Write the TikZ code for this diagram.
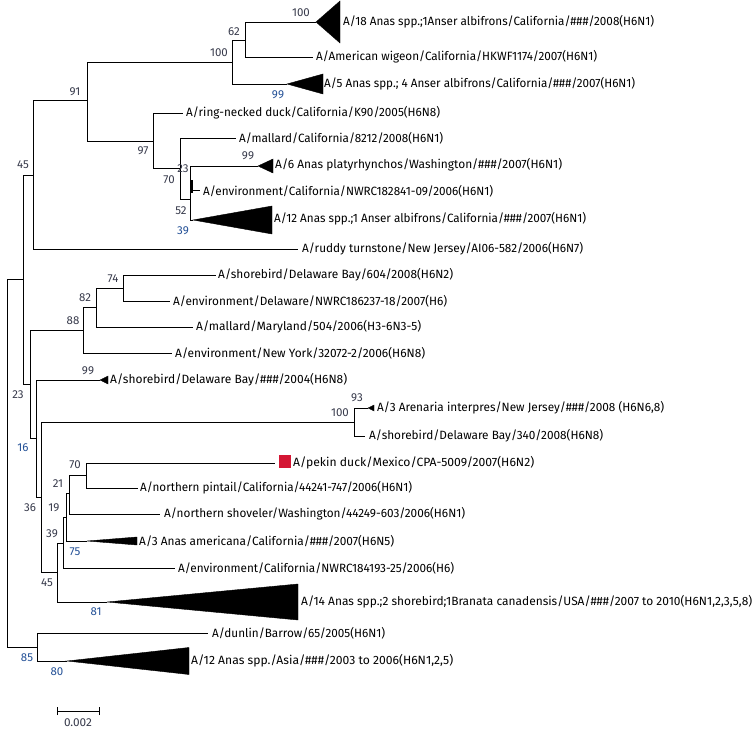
\documentclass[tikz,border=0pt]{standalone}
\usepackage{graphicx}
\usepackage{fontspec}
\setmainfont{Fira Sans}
\definecolor{bsgray}{RGB}{55,58,75}
\definecolor{bsblue}{RGB}{35,80,150}
\definecolor{pekred}{RGB}{212,22,52}
\newcommand\cladetri[3]{\fill[tri] (#1) -- ++(#2,-#3) -- ++(0,2*#3) -- cycle;}
\newcommand\fitw[2]{\resizebox{#1pt}{\height}{#2}}
\begin{document}
\begin{tikzpicture}[x=1pt,y=-1pt,
  br/.style={line width=0.9pt},
  tri/.style={fill=black,draw=black,line width=0.4pt,line join=miter},
  tip/.style={anchor=west,inner sep=0pt,font=\fontsize{12}{13}\selectfont},
  bs/.style={inner sep=0pt,font=\fontsize{11.5}{12}\selectfont,text=bsgray},
  bsb/.style={bs,text=bsblue}]
\useasboundingbox (0,0) rectangle (755,730);

% internal nodes
\coordinate (root) at (7,463);
\coordinate (nA) at (23,279);
\coordinate (n45) at (33,175);
\coordinate (n91) at (87,100);
\coordinate (n100a) at (232,62);
\coordinate (n62) at (245,40);
\coordinate (n97) at (153,141);
\coordinate (n70) at (180,168);
\coordinate (n52) at (190,199);
\coordinate (nEnv) at (192,186);
\coordinate (n30) at (30,384);
\coordinate (n88) at (83,330);
\coordinate (n82) at (96,307);
\coordinate (n74) at (123,288);
\coordinate (n16) at (36,438);
\coordinate (n36) at (41,497);
\coordinate (n100b) at (354,422);
\coordinate (n45b) at (57,572);
\coordinate (n39) at (63,543);
\coordinate (n19) at (66,517);
\coordinate (n21) at (69,493);
\coordinate (n70b) at (86,475);
\coordinate (n85) at (37,647);

% tip ends
\coordinate (tr18) at (316,22);
\coordinate (e2) at (313,57);
\coordinate (tr5) at (287,84);
\coordinate (e4) at (183,113);
\coordinate (e5) at (236,138);
\coordinate (tr6) at (258,166);
\coordinate (e7) at (200,190);
\coordinate (tr12) at (193,220);
\coordinate (e9) at (298,249);
\coordinate (e10) at (216,275);
\coordinate (e11) at (170,301);
\coordinate (e12) at (193,327);
\coordinate (e13) at (172,353);
\coordinate (tr04) at (100,380);
\coordinate (tr3a) at (368,408);
\coordinate (e16) at (365,436);
\coordinate (e17) at (275,463);
\coordinate (e18) at (138,488);
\coordinate (e19) at (160,514);
\coordinate (tr3m) at (87,541);
\coordinate (e21) at (175,568);
\coordinate (tr14) at (107,602);
\coordinate (e23) at (208,633);
\coordinate (tr12a) at (67,661);

% branches
\draw[br] (root) |- (nA);
\draw[br] (root) |- (n85);
\draw[br] (nA) |- (n45);
\draw[br] (nA) |- (n30);
\draw[br] (n45) |- (n91);
\draw[br] (n45) |- (e9);
\draw[br] (n91) |- (n100a);
\draw[br] (n91) |- (n97);
\draw[br] (n100a) |- (n62);
\draw[br] (n100a) |- (tr5);
\draw[br] (n62) |- (tr18);
\draw[br] (n62) |- (e2);
\draw[br] (n97) |- (e4);
\draw[br] (n97) |- (n70);
\draw[br] (n70) |- (e5);
\draw[br] (n70) |- (n52);
\draw[br] (n52) |- (tr6);
\draw[br] (n52) |- (tr12);
\draw[br] (n52) |- (nEnv);
\draw[line width=1.4pt] ([yshift=-7pt]nEnv) -- ([yshift=6pt]nEnv);
\draw[br] (nEnv) |- (e7);
\draw[br] (n30) |- (n88);
\draw[br] (n30) |- (n16);
\draw[br] (n88) |- (n82);
\draw[br] (n88) |- (e13);
\draw[br] (n82) |- (n74);
\draw[br] (n82) |- (e12);
\draw[br] (n74) |- (e10);
\draw[br] (n74) |- (e11);
\draw[br] (n16) |- (tr04);
\draw[br] (n16) |- (n36);
\draw[br] (n36) |- (n100b);
\draw[br] (n36) |- (n45b);
\draw[br] (n100b) |- (tr3a);
\draw[br] (n100b) |- (e16);
\draw[br] (n45b) |- (n39);
\draw[br] (n45b) |- (tr14);
\draw[br] (n39) |- (n19);
\draw[br] (n39) |- (e21);
\draw[br] (n19) |- (n21);
\draw[br] (n19) |- (tr3m);
\draw[br] (n21) |- (n70b);
\draw[br] (n21) |- (e19);
\draw[br] (n70b) |- (e17);
\draw[br] (n70b) |- (e18);
\draw[br] (n85) |- (e23);
\draw[br] (n85) |- (tr12a);

% collapsed clades
\cladetri{tr18}{24}{21}
\cladetri{tr5}{36}{10}
\cladetri{tr6}{15}{7}
\cladetri{tr12}{79}{14}
\cladetri{tr04}{8}{4}
\cladetri{tr3a}{6}{3}
\cladetri{tr3m}{50}{4}
\cladetri{tr14}{191}{18}
\cladetri{tr12a}{122}{13.5}

% red marker
\node[fill=pekred,minimum width=12pt,minimum height=13pt,inner sep=0pt] (sq) at (285,461) {};

% tip labels
\node[tip] (t1) at (343,22) {\fitw{311}{A/18 Anas spp.;1Anser albifrons/California/\#\#\#/2008(H6N1)}};
\node[tip] (t2) at (316,57) {\fitw{281}{A/American wigeon/California/HKWF1174/2007(H6N1)}};
\node[tip] (t3) at (324,84) {\fitw{311}{A/5 Anas spp.; 4 Anser albifrons/California/\#\#\#/2007(H6N1)}};
\node[tip] (t4) at (186,113) {\fitw{254}{A/ring-necked duck/California/K90/2005(H6N8)}};
\node[tip] (t5) at (239,138) {\fitw{204}{A/mallard/California/8212/2008(H6N1)}};
\node[tip] (t6) at (275,165) {\fitw{287}{A/6 Anas platyrhynchos/Washington/\#\#\#/2007(H6N1)}};
\node[tip] (t7) at (203,191) {\fitw{290}{A/environment/California/NWRC182841-09/2006(H6N1)}};
\node[tip] (t8) at (274,219) {\fitw{312}{A/12 Anas spp.;1 Anser albifrons/California/\#\#\#/2007(H6N1)}};
\node[tip] (t9) at (302,249) {\fitw{281}{A/ruddy turnstone/New Jersey/AI06-582/2006(H6N7)}};
\node[tip] (t10) at (218,275) {\fitw{235}{A/shorebird/Delaware Bay/604/2008(H6N2)}};
\node[tip] (t11) at (173,301) {\fitw{274}{A/environment/Delaware/NWRC186237-18/2007(H6)}};
\node[tip] (t12) at (196,327) {\fitw{225}{A/mallard/Maryland/504/2006(H3-6N3-5)}};
\node[tip] (t13) at (175,353) {\fitw{250}{A/environment/New York/32072-2/2006(H6N8)}};
\node[tip] (t14) at (110,380) {\fitw{237}{A/shorebird/Delaware Bay/\#\#\#/2004(H6N8)}};
\node[tip] (t15) at (377,408) {\fitw{287}{A/3 Arenaria interpres/New Jersey/\#\#\#/2008 (H6N6,8)}};
\node[tip] (t16) at (369,436) {\fitw{234}{A/shorebird/Delaware Bay/340/2008(H6N8)}};
\node[tip] (t17) at (293,463) {\fitw{241}{A/pekin duck/Mexico/CPA-5009/2007(H6N2)}};
\node[tip] (t18) at (140,488) {\fitw{272}{A/northern pintail/California/44241-747/2006(H6N1)}};
\node[tip] (t19) at (164,514) {\fitw{301}{A/northern shoveler/Washington/44249-603/2006(H6N1)}};
\node[tip] (t20) at (139,541) {\fitw{255}{A/3 Anas americana/California/\#\#\#/2007(H6N5)}};
\node[tip] (t21) at (178,568) {\fitw{276}{A/environment/California/NWRC184193-25/2006(H6)}};
\node[tip] (t22) at (301,602) {\fitw{451}{A/14 Anas spp.;2 shorebird;1Branata canadensis/USA/\#\#\#/2007 to 2010(H6N1,2,3,5,8)}};
\node[tip] (t23) at (212,633) {\fitw{173}{A/dunlin/Barrow/65/2005(H6N1)}};
\node[tip] (t24) at (191,661) {\fitw{262}{A/12 Anas spp./Asia/\#\#\#/2003 to 2006(H6N1,2,5)}};

% bootstrap values
\node[bs] (b1) at (301,13) {100};
\node[bs] (b2) at (234,32) {62};
\node[bs] (b3) at (219,53) {100};
\node[bsb] (b4) at (278,95) {99};
\node[bs] (b5) at (75,92) {91};
\node[bs] (b6) at (143,151) {97};
\node[bs] (b7) at (23,165) {45};
\node[bs] (b8) at (183,169) {23};
\node[bs] (b9) at (169,180) {70};
\node[bs] (b10) at (248,156) {99};
\node[bs] (b11) at (181,211) {52};
\node[bsb] (b12) at (183,231) {39};
\node[bs] (b13) at (113,279) {74};
\node[bs] (b14) at (85,298) {82};
\node[bs] (b15) at (73,321) {88};
\node[bs] (b16) at (88,371) {99};
\node[bs] (b17) at (18,395) {23};
\node[bs] (b18) at (357,398) {93};
\node[bs] (b19) at (340,413) {100};
\node[bsb] (b20) at (23,448) {16};
\node[bs] (b21) at (75,465) {70};
\node[bs] (b22) at (58,484) {21};
\node[bs] (b23) at (30,508) {36};
\node[bs] (b24) at (54,508) {19};
\node[bs] (b25) at (52,534) {39};
\node[bsb] (b26) at (75,552) {75};
\node[bs] (b27) at (47,583) {45};
\node[bsb] (b28) at (96,612) {81};
\node[bsb] (b29) at (27,658) {85};
\node[bsb] (b30) at (57,672) {80};

% scale bar
\coordinate (sbL) at (57,711);
\coordinate (sbR) at (99,711);
\draw[br] (sbL) -- (sbR);
\draw[br] ([yshift=-4pt]sbL) -- ([yshift=4pt]sbL);
\draw[br] ([yshift=-4pt]sbR) -- ([yshift=4pt]sbR);
\node[bs,text=bsgray] (sbt) at (78,723) {\fitw{28}{0.002}};
\end{tikzpicture}
\end{document}
